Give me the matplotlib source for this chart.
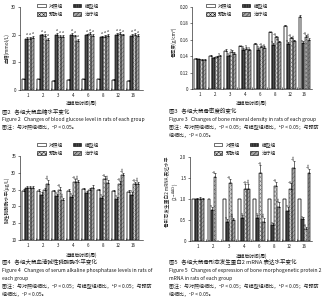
import numpy as np
import matplotlib
matplotlib.use('Agg')
import matplotlib.pyplot as plt
from matplotlib.patches import Patch

plt.rcParams['font.family'] = ['Noto Sans CJK SC', 'DejaVu Sans']
plt.rcParams['hatch.linewidth'] = 0.3
plt.rcParams['axes.linewidth'] = 0.4

weeks = ['1', '2', '3', '4', '6', '8', '12', '16']
groups = ['对照组', '模型组', '预防组', '治疗组']

# Figure 2: blood glucose (mmol/L)
glu_ctrl = [3.8, 3.8, 3.4, 3.6, 3.8, 3.8, 3.7, 3.4]
glu_model = [18.5, 19.8, 20.0, 20.0, 19.8, 19.0, 19.8, 19.6]
glu_prev = [18.6, 19.5, 19.2, 19.4, 20.2, 19.2, 20.2, 20.0]
glu_treat = [18.8, 18.2, 19.2, 17.8, 19.6, 19.6, 19.8, 19.5]
glu_err = [[0.3, 0.3, 0.3, 0.3, 0.3, 0.3, 0.3, 0.3],
           [0.8, 0.6, 0.7, 0.6, 0.6, 0.6, 0.7, 0.6],
           [0.6, 0.6, 0.6, 0.6, 0.6, 0.6, 0.6, 0.6],
           [0.6, 0.6, 0.6, 0.6, 0.6, 0.6, 0.6, 0.6]]
glu_lab = [['', '', '', '', '', '', '', ''],
           ['a', 'a', 'a', 'a', 'a', 'a', 'a', 'a'],
           ['a', 'a', 'a', 'a', 'a', 'a', 'a', 'a'],
           ['a', 'a', 'a', 'a', 'a', 'a', 'a', 'a']]

# Figure 3: bone mineral density (g/cm2)
bmd_ctrl = [0.137, 0.140, 0.146, 0.152, 0.155, 0.169, 0.177, 0.188]
bmd_model = [0.136, 0.138, 0.140, 0.148, 0.148, 0.154, 0.155, 0.156]
bmd_prev = [0.135, 0.139, 0.145, 0.149, 0.151, 0.163, 0.162, 0.164]
bmd_treat = [0.135, 0.140, 0.143, 0.147, 0.150, 0.157, 0.158, 0.160]
bmd_err = [[0.001, 0.001, 0.003, 0.001, 0.001, 0.001, 0.001, 0.002],
           [0.001, 0.001, 0.002, 0.002, 0.002, 0.002, 0.002, 0.002],
           [0.001, 0.001, 0.002, 0.002, 0.002, 0.002, 0.002, 0.002],
           [0.001, 0.002, 0.002, 0.002, 0.002, 0.002, 0.002, 0.002]]
bmd_lab = [['', '', '', '', '', '', '', ''],
           ['', '', 'a', 'a', 'a', 'a', 'a', 'a'],
           ['', '', 'a', 'a', 'ab', 'ab', 'ab', 'ab'],
           ['', 'a', '', 'a', 'ab', 'abc', 'abc', 'abc']]

# Figure 4: serum ALP (ug/L)
alp_ctrl = [24.6, 24.5, 24.6, 24.6, 25.1, 24.8, 24.5, 24.2]
alp_model = [25.4, 23.5, 23.1, 22.7, 24.0, 22.6, 22.1, 23.5]
alp_prev = [25.5, 24.8, 24.9, 27.4, 25.0, 28.3, 26.8, 26.8]
alp_treat = [25.5, 26.7, 21.8, 27.3, 25.6, 27.1, 29.2, 26.8]
alp_err = [[0.6, 0.6, 0.3, 0.5, 0.4, 0.3, 0.3, 0.6],
           [0.7, 0.8, 0.6, 0.8, 0.6, 0.5, 0.6, 0.7],
           [0.6, 0.6, 0.8, 0.7, 0.6, 0.6, 0.7, 0.6],
           [0.6, 1.2, 0.8, 0.7, 0.9, 0.7, 0.8, 0.6]]
alp_lab = [['', '', '', '', '', '', '', ''],
           ['', '', 'a', 'a', '', 'a', 'a', 'a'],
           ['', '', 'ab', 'ab', '', 'ab', 'ab', 'ab'],
           ['', 'abc', 'abc', 'abc', '', 'abc', 'abc', 'abc']]

# Figure 5: BMP-2 mRNA (2^-ddCt)
bmp_ctrl = [1.0, 1.0, 1.0, 1.0, 1.0, 1.0, 1.0, 1.0]
bmp_model = [1.0, 0.75, 0.45, 0.55, 0.55, 0.37, 0.72, 0.52]
bmp_prev = [1.0, 1.53, 1.38, 1.25, 1.62, 1.32, 1.25, 0.28]
bmp_treat = [1.0, 0.0, 0.50, 1.25, 0.45, 0.82, 1.75, 1.62]
bmp_err = [[0.0, 0.0, 0.0, 0.0, 0.0, 0.0, 0.0, 0.0],
           [0.03, 0.06, 0.08, 0.07, 0.08, 0.05, 0.1, 0.04],
           [0.05, 0.08, 0.1, 0.1, 0.2, 0.08, 0.12, 0.05],
           [0.03, 0.0, 0.05, 0.1, 0.1, 0.1, 0.15, 0.1]]
bmp_lab = [['', '', '', '', '', '', '', ''],
           ['', 'a', 'a', 'a', 'a', 'a', 'a', 'a'],
           ['', 'ab', 'ab', 'ab', 'ab', 'ab', 'ab', 'ab'],
           ['', '', 'abc', 'abc', 'abc', 'abc', 'abc', 'abc']]

W, H = 333, 300
fig = plt.figure(figsize=(W / 100, H / 100), dpi=100)


def fx(x):
    return x / W


def fy(y):
    return 1 - y / H


def rect(x0, y0, x1, y1):
    return [fx(x0), fy(y1), fx(x1) - fx(x0), fy(y0) - fy(y1)]


styles = [dict(facecolor='white', hatch=None, hc='black'),
          dict(facecolor='#4d4d4d', hatch='||||||||||', hc='#333333'),
          dict(facecolor='#dcdcdc', hatch='xxxxxxxx', hc='#777777'),
          dict(facecolor='#a8a8a8', hatch='////////', hc='#555555')]
offsets = [-0.3, -0.1, 0.1, 0.3]
bw = 0.19
TXT = '#1a1a1a'
FS = 3.4


def panel(rc, series, errs, labs, ylim, yticks, yticklabels, xlim, rot_labels):
    ax = fig.add_axes(rc)
    x = np.arange(len(weeks))
    span = ylim[1] - ylim[0]
    for i, (vals, st) in enumerate(zip(series, styles)):
        vals = np.array(vals, dtype=float)
        b = ax.bar(x + offsets[i], vals - ylim[0], bw, bottom=ylim[0],
                   color=st['facecolor'], edgecolor=st['hc'], linewidth=0.3,
                   hatch=st['hatch'], zorder=2)
        for r in b:
            r.set_edgecolor(st['hc'])
        ax.bar(x + offsets[i], vals - ylim[0], bw, bottom=ylim[0],
               fill=False, edgecolor='black', linewidth=0.3, zorder=3)
        err = np.array(errs[i], dtype=float)
        mask = (err > 0) & (vals > ylim[0])
        ax.errorbar((x + offsets[i])[mask], vals[mask],
                    yerr=[np.zeros(mask.sum()), err[mask]], fmt='none',
                    ecolor='black', elinewidth=0.4, capsize=0.7,
                    capthick=0.4, zorder=4)
        for j, t in enumerate(labs[i]):
            if t and vals[j] > ylim[0]:
                ax.text(x[j] + offsets[i], vals[j] + err[j] + span * 0.01, t,
                        fontsize=2.4, ha='center', va='bottom',
                        rotation=90 if rot_labels else 0, color=TXT,
                        linespacing=0.8, zorder=5)
    ax.set_xlim(*xlim)
    ax.set_ylim(*ylim)
    ax.set_yticks(yticks)
    ax.set_yticklabels(yticklabels)
    ax.set_xticks(x)
    ax.set_xticklabels(weeks)
    ax.set_xticks(x[:-1] + 0.5, minor=True)
    ax.tick_params(axis='x', which='major', length=0, labelsize=3.2,
                   pad=2.5, colors=TXT)
    ax.tick_params(axis='x', which='minor', length=1.5, direction='in',
                   width=0.4)
    ax.tick_params(axis='y', length=1.5, width=0.4, labelsize=3.2,
                   pad=1.2, colors=TXT)
    for s in ['top', 'right']:
        ax.spines[s].set_visible(False)
    return ax


handles = [Patch(facecolor=st['facecolor'], edgecolor='black', hatch=st['hatch'],
                 linewidth=0.4) for st in styles]
order = [0, 2, 1, 3]


def legend(ax, x, y):
    lg = ax.legend([handles[k] for k in order], [groups[k] for k in order],
                   ncol=2, loc='upper left', bbox_to_anchor=(fx(x), fy(y)),
                   bbox_transform=fig.transFigure, frameon=False,
                   fontsize=FS, handlelength=1.8, handleheight=0.8,
                   handletextpad=0.8, labelspacing=0.75, columnspacing=2.0,
                   borderpad=0, borderaxespad=0)
    for t in lg.get_texts():
        t.set_color(TXT)


# Panel 1
ax1 = panel(rect(20, 7, 143, 90), [glu_ctrl, glu_model, glu_prev, glu_treat],
            glu_err, glu_lab, (0, 30), [0, 10, 20, 30], ['0', '10', '20', '30'],
            (-0.55, 7.65), False)
legend(ax1, 37, 3)
fig.text(fx(7), fy(48), '血糖(mmol/L)', rotation=90, ha='center', va='center',
         fontsize=FS, color=TXT)
fig.text(fx(82), fy(103), '造模后时间(周)', ha='center', va='center',
         fontsize=FS, color=TXT)

# Panel 2
ax2 = panel(rect(192, 7, 312, 89), [bmd_ctrl, bmd_model, bmd_prev, bmd_treat],
            bmd_err, bmd_lab, (0.10, 0.20),
            [0.10, 0.12, 0.14, 0.16, 0.18, 0.20],
            ['0', '0.12', '0.14', '0.16', '0.18', '0.20'],
            (-0.55, 7.5), True)
legend(ax2, 206, 3)
fig.text(fx(174), fy(42), '骨密度(g/cm²)', rotation=90, ha='center', va='center',
         fontsize=FS, color=TXT)
fig.text(fx(251), fy(103), '造模后时间(周)', ha='center', va='center',
         fontsize=FS, color=TXT)

# Panel 3
ax3 = panel(rect(20, 156, 143, 240), [alp_ctrl, alp_model, alp_prev, alp_treat],
            alp_err, alp_lab, (10, 35), [10, 15, 20, 25, 30, 35],
            ['10', '15', '20', '25', '30', '35'], (-0.55, 7.65), True)
legend(ax3, 37, 142)
fig.text(fx(7), fy(200), '碱性磷酸酶水平(μg/L)', rotation=90, ha='center',
         va='center', fontsize=FS, color=TXT)
fig.text(fx(82), fy(255), '造模后时间(周)', ha='center', va='center',
         fontsize=FS, color=TXT)

# Panel 4
ax4 = panel(rect(190, 157, 312, 241), [bmp_ctrl, bmp_model, bmp_prev, bmp_treat],
            bmp_err, bmp_lab, (0, 2.0), [0, 0.5, 1.0, 1.5, 2.0],
            ['0', '0.5', '1.0', '1.5', '2.0'], (-0.55, 7.5), True)
legend(ax4, 214, 142)
fig.text(fx(172), fy(192), '骨形态发生蛋白2 mRNA 表达水平\n(2$^{-\\Delta\\Delta Ct}$)',
         rotation=90, ha='center', va='center', fontsize=FS, color=TXT,
         linespacing=1.1)
fig.text(fx(251), fy(256), '造模后时间(周)', ha='center', va='center',
         fontsize=FS, color=TXT)

note3 = ['图注：与对照组相比，ᵃP < 0.05；与模型组相比，ᵇP < 0.05；与预防',
         '组相比，ᶜP < 0.05。']

captions = [
    (2, 111, ['图2   各组大鼠血糖水平变化',
              'Figure 2   Changes of blood glucose level in rats of each group',
              '图注：与对照组相比，ᵃP < 0.05。']),
    (169, 111, ['图3   各组大鼠骨密度的变化',
                'Figure 3   Changes of bone mineral density in rats of each group'] + note3),
    (2, 262, ['图4   各组大鼠血清碱性磷酸酶水平变化',
              'Figure 4   Changes of serum alkaline phosphatase levels in rats of',
              'each group'] + note3),
    (169, 262, ['图5   各组大鼠骨形态发生蛋白2 mRNA 表达水平变化',
                'Figure 5   Changes of expression of bone morphogenetic protein 2',
                'mRNA in rats of each group'] + note3),
]
for x0, y0, lines in captions:
    for k, line in enumerate(lines):
        if line.startswith('图注') or line.startswith('组相比'):
            fs = 3.6
        elif line.startswith('图'):
            fs = 4.0
        else:
            fs = 3.6
        fig.text(fx(x0), fy(y0 + k * 8.2), line, ha='left', va='center',
                 fontsize=fs, color=TXT)

fig.savefig('out.png', dpi=100)
